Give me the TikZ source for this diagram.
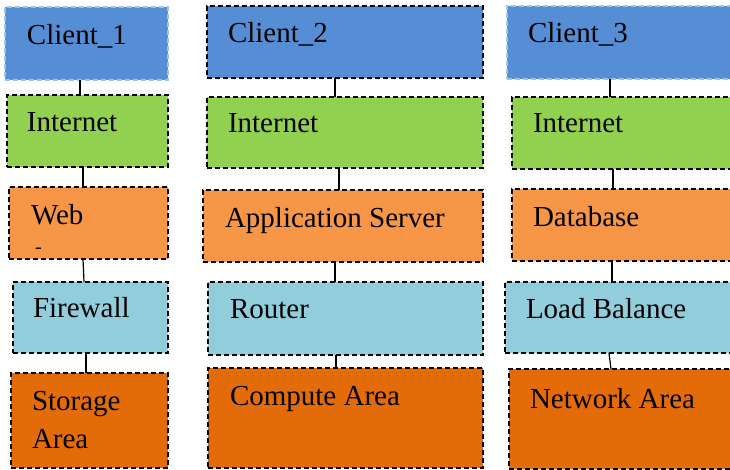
\documentclass[tikz,border=0pt]{standalone}
\usepackage{fontspec}
\setmainfont{Liberation Serif}
\definecolor{cblue}{HTML}{558ED5}
\definecolor{cblueedge}{HTML}{9DC3E6}
\definecolor{cgreen}{HTML}{92D050}
\definecolor{corange}{HTML}{F79646}
\definecolor{ccyan}{HTML}{92CDDC}
\definecolor{cdark}{HTML}{E36C09}
\tikzset{
  box/.style={draw=black, line width=1.4pt, dash pattern=on 5pt off 3pt,
    anchor=north west, inner sep=0pt, outer sep=0pt},
  lbl/.style={anchor=base west, inner sep=0pt, outer sep=0pt,
    font=\fontsize{29}{37}\selectfont},
  link/.style={draw=black, line width=1.2pt}
}
\begin{document}
\begin{tikzpicture}[x=1pt,y=-1pt]
\useasboundingbox (0,0) rectangle (730,470);
% column 1
\node[box, draw=cblueedge, fill=cblue, minimum width=163pt, minimum height=73pt] (c1) at (5,7) {};
\node[box, fill=cgreen, minimum width=161pt, minimum height=72pt] (i1) at (7,95) {};
\node[box, fill=corange, minimum width=159pt, minimum height=72pt] (w1) at (9,187) {};
\node[box, fill=ccyan, minimum width=155pt, minimum height=71pt] (f1) at (13,282) {};
\node[box, fill=cdark, minimum width=157pt, minimum height=95pt] (s1) at (11,373) {};
% column 2
\node[box, fill=cblue, minimum width=276pt, minimum height=72pt] (c2) at (207,6) {};
\node[box, fill=cgreen, minimum width=276pt, minimum height=71pt] (i2) at (207,97) {};
\node[box, fill=corange, minimum width=280pt, minimum height=72pt] (a2) at (203,190) {};
\node[box, fill=ccyan, minimum width=275pt, minimum height=73pt] (r2) at (208,282) {};
\node[box, fill=cdark, minimum width=275pt, minimum height=100pt] (p2) at (208,368) {};
% column 3
\node[box, draw=cblueedge, fill=cblue, minimum width=240pt, minimum height=73pt] (c3) at (507,6) {};
\node[box, fill=cgreen, minimum width=240pt, minimum height=72pt] (i3) at (512,97) {};
\node[box, fill=corange, minimum width=240pt, minimum height=72pt] (d3) at (512,189) {};
\node[box, fill=ccyan, minimum width=240pt, minimum height=71pt] (l3) at (505,282) {};
\node[box, fill=cdark, minimum width=240pt, minimum height=100pt] (n3) at (509,369) {};
% connectors column 1
\draw[link] ([xshift=75pt]c1.south west) -- ([xshift=73pt]i1.north west);
\draw[link] ([xshift=76pt]i1.south west) -- ([xshift=74pt]w1.north west);
\draw[link] ([xshift=74pt]w1.south west) -- ([xshift=71pt]f1.north west);
\draw[link] ([xshift=73pt]f1.south west) -- ([xshift=75pt]s1.north west);
% connectors column 2
\draw[link] ([xshift=128pt]c2.south west) -- ([xshift=128pt]i2.north west);
\draw[link] ([xshift=132pt]i2.south west) -- ([xshift=136pt]a2.north west);
\draw[link] ([xshift=132pt]a2.south west) -- ([xshift=127pt]r2.north west);
\draw[link] ([xshift=128pt]r2.south west) -- ([xshift=128pt]p2.north west);
% connectors column 3
\draw[link] ([xshift=103pt]c3.south west) -- ([xshift=98pt]i3.north west);
\draw[link] ([xshift=101pt]i3.south west) -- ([xshift=101pt]d3.north west);
\draw[link] ([xshift=100pt]d3.south west) -- ([xshift=107pt]l3.north west);
\draw[link] ([xshift=104pt]l3.south west) -- ([xshift=102pt]n3.north west);
% labels
\node[lbl] (tc1) at (27,45) {Client\_1};
\node[lbl] (ti1) at (27,132) {Internet};
\node[lbl] (tw1) at (31,225) {Web};
\node[lbl, font=\fontsize{20}{24}\selectfont] (tw1b) at (35,254) {-};
\node[lbl] (tf1) at (33,317) {Firewall};
\node[lbl] (ts1) at (32,410) {Storage};
\node[lbl] (ts1b) at (32,448) {Area};
\node[lbl] (tc2) at (228,43) {Client\_2};
\node[lbl] (ti2) at (228,133) {Internet};
\node[lbl] (ta2) at (225,228) {Application Server};
\node[lbl] (tr2) at (230,318) {Router};
\node[lbl] (tp2) at (230,405) {Compute Area};
\node[lbl] (tc3) at (528,43) {Client\_3};
\node[lbl] (ti3) at (533,133) {Internet};
\node[lbl] (td3) at (533,227) {Database};
\node[lbl] (tl3) at (526,318) {Load Balance};
\node[lbl] (tn3) at (530,408) {Network Area};
\end{tikzpicture}
\end{document}
